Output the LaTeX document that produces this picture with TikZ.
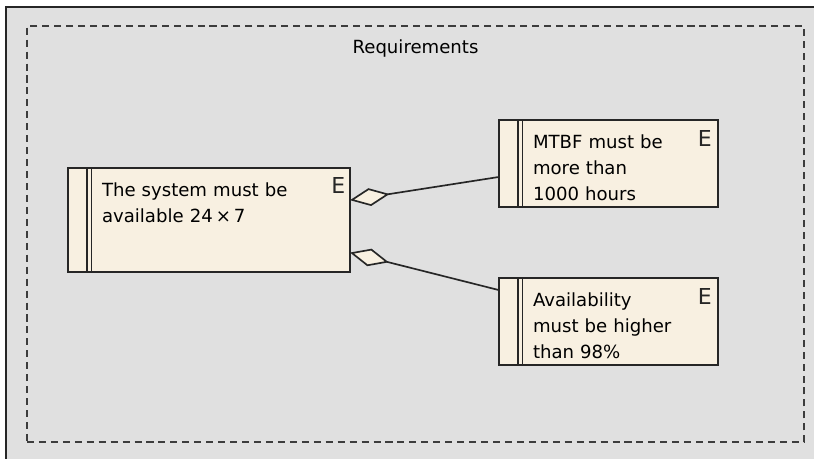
\documentclass[tikz,border=0pt]{standalone}
\usepackage{fontspec}
\setmainfont{DejaVu Sans}
\usepackage{tikz}
\usetikzlibrary{arrows.meta, positioning}

\definecolor{canvasgray}{RGB}{224,224,224}
\definecolor{reqfill}{RGB}{248,240,225}
\definecolor{reqline}{RGB}{38,38,38}
\newcommand{\reqfont}{\fontsize{10.3}{14.7}\selectfont}

\begin{document}
\begin{tikzpicture}[
    reqbox/.style={
        rectangle,
        draw=reqline,
        line width=1.1pt,
        fill=reqfill,
        outer sep=0pt,
        inner xsep=0.68cm,
        inner ysep=0pt,
        text height=0.57cm,
        align=left,
        font=\reqfont,
        path picture={
            \draw[reqline, line width=1.1pt]
                ([xshift=0.385cm]path picture bounding box.north west) --
                ([xshift=0.385cm]path picture bounding box.south west);
            \draw[reqline, line width=1.1pt]
                ([xshift=0.47cm]path picture bounding box.north west) --
                ([xshift=0.47cm]path picture bounding box.south west);
        }
    },
    stamp/.style={
        inner sep=0pt,
        text=reqline,
        font=\fontsize{12.5}{12.5}\selectfont
    },
    frame/.style={
        rectangle,
        draw=reqline!90,
        line width=1.1pt,
        dash pattern=on 4pt off 2.8pt
    },
    assoc/.style={
        {Diamond[fill=reqfill, length=0.8cm, width=0.36cm]}-,
        draw=reqline,
        line width=0.95pt
    }
]

% =============== FUNDO ===============

\useasboundingbox (0,0) rectangle (16.28,-9.18);
\fill[white] (0,0) rectangle (16.28,-9.18);
\fill[canvasgray] (0.12,-0.14) rectangle (16.28,-9.18);
\draw[reqline, line width=1.1pt] (0.12,-9.18) -- (0.12,-0.14) -- (16.28,-0.14);

% =============== PACOTE ===============

\node[frame, minimum width=15.54cm, minimum height=8.32cm] (reqs) at (8.31,-4.68) {};
\node[font=\reqfont, anchor=base] (reqs_title) at ([yshift=-0.56cm]reqs.north) {Requirements};

% =============== REQUISITOS ===============

\node[reqbox, text width=4.28cm, text depth=1.51cm] (sys) at (4.18,-4.4)
    {The system must be\\available 24\,\texttimes\,7};
\node[reqbox, text width=3.02cm, text depth=1.17cm] (mtbf) at (12.17,-3.27)
    {MTBF must be\\more than\\1000 hours};
\node[reqbox, text width=3.02cm, text depth=1.17cm] (avail) at (12.17,-6.43)
    {Availability\\must be higher\\than 98\%};

% Estereótipos
\node[stamp, anchor=north east] (sys_e)   at ([shift={(-0.09,-0.19)}]sys.north east) {E};
\node[stamp, anchor=north east] (mtbf_e)  at ([shift={(-0.12,-0.21)}]mtbf.north east) {E};
\node[stamp, anchor=north east] (avail_e) at ([shift={(-0.12,-0.21)}]avail.north east) {E};

% Ligações
\draw[assoc] (sys.8.5) -- (mtbf.187.5);
\draw[assoc] (sys.-13.9) -- (avail.164);

\end{tikzpicture}
\end{document}
